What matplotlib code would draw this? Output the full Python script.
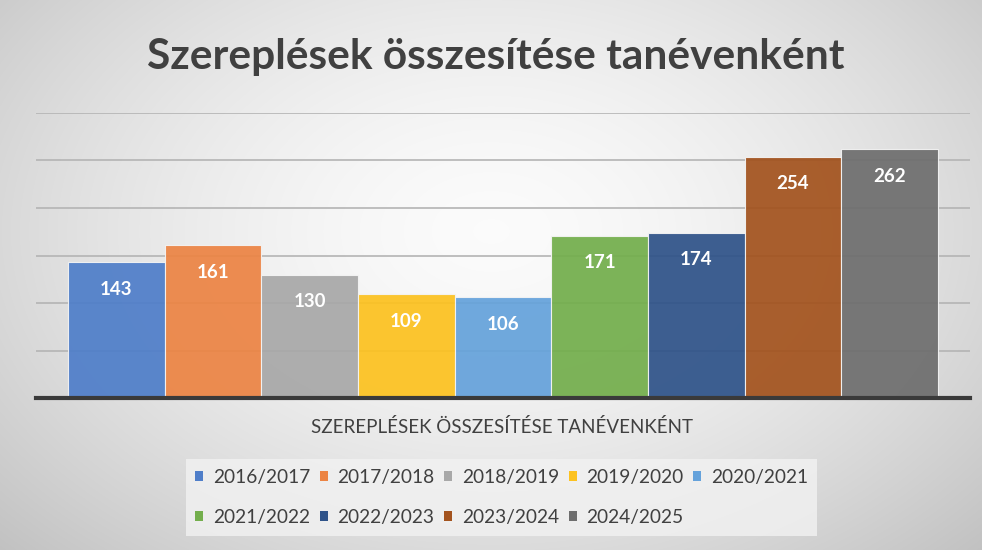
import numpy as np
import matplotlib
matplotlib.use("Agg")
import matplotlib.pyplot as plt
from matplotlib.patches import Patch

years = ["2016/2017", "2017/2018", "2018/2019", "2019/2020", "2020/2021",
         "2021/2022", "2022/2023", "2023/2024", "2024/2025"]
values = [143, 161, 130, 109, 106, 171, 174, 254, 262]
colors = ["#4f7ec9", "#ec8444", "#a8a8a8", "#fcc220", "#65a2db",
          "#73ae4c", "#2f5389", "#a3531e", "#6e6e6e"]
title = "Szereplések összesítése tanévenként"
category = "SZEREPLÉSEK ÖSSZESÍTÉSE TANÉVENKÉNT"

plt.rcParams['font.family'] = ['Lato', 'DejaVu Sans']

W, H = 982, 550
fig = plt.figure(figsize=(W / 100, H / 100), dpi=100)

# radial gradient background
bg = fig.add_axes([0, 0, 1, 1])
yy, xx = np.mgrid[0:H, 0:W]
cx, cy = W * 0.5, H * 0.42
r = np.sqrt(((xx - cx) / (W * 0.62)) ** 2 + ((yy - cy) / (H * 0.75)) ** 2)
v = np.clip(0.985 - 0.19 * r ** 1.6, 0.72, 1.0)
bg.imshow(np.dstack([v, v, v]), extent=[0, W, H, 0], aspect='auto')
bg.set_axis_off()

ax = fig.add_axes([36 / W, 1 - 398 / H, 934 / W, (398 - 113) / H])
ax.set_facecolor('none')
x = np.arange(len(values))
bars = ax.bar(x, values, width=1.0, color=colors, edgecolor='#f4f4f4',
              linewidth=0.8, alpha=0.93, zorder=2)
ax.set_xlim(-0.83, len(values) - 1 + 0.83)
ax.set_ylim(0, 300)
ax.set_yticks(np.arange(50, 301, 50))
ax.yaxis.grid(True, color='#b4b4b4', linewidth=1.2, zorder=1)
ax.set_axisbelow(True)
for s in ['top', 'right', 'left']:
    ax.spines[s].set_visible(False)
ax.spines['bottom'].set_color('#3a3a3a')
ax.spines['bottom'].set_linewidth(3)
ax.spines['bottom'].set_zorder(3)
ax.tick_params(left=False, bottom=False, labelleft=False, labelbottom=False)

for xi, val in zip(x, values):
    ax.annotate(str(val), (xi, val), xytext=(0, -27), textcoords='offset pixels',
                ha='center', va='center', color='white', fontsize=13.5,
                fontweight='bold', zorder=4)

fig.text(0.505, 1 - 57 / H, title, ha='center', va='center', fontsize=30.5,
         fontweight='bold', color='#404040')
fig.text(502 / W, 1 - 427 / H, category, ha='center', va='center',
         fontsize=13.5, color='#404040')

handles = [Patch(facecolor=c, edgecolor='none', label=y) for c, y in zip(colors, years)]
order = [0, 5, 1, 6, 2, 7, 3, 8, 4]
leg = fig.legend([handles[i] for i in order], [years[i] for i in order],
                 ncol=5, loc='center', bbox_to_anchor=(501.5 / W, 1 - 497.5 / H),
                 fontsize=13.8, frameon=True, handlelength=0.42, handleheight=0.42,
                 handletextpad=0.5, columnspacing=0.5, labelspacing=1.22,
                 borderpad=0.5, borderaxespad=0, labelcolor='#404040')
leg.get_frame().set_facecolor('#f2f2f2')
leg.get_frame().set_alpha(0.8)
leg.get_frame().set_edgecolor('none')
leg.get_frame().set_boxstyle('square', pad=0)

fig.savefig('out.png', dpi=100)
